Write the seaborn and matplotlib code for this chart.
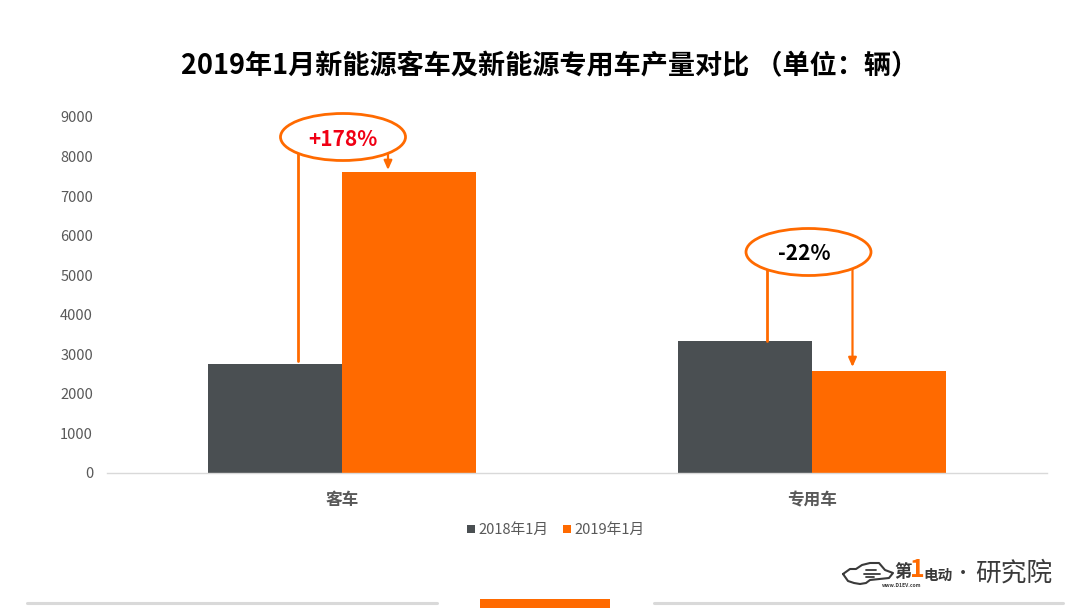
import matplotlib
matplotlib.use("Agg")
import matplotlib.pyplot as plt
from matplotlib.patches import Ellipse, Rectangle
from matplotlib.lines import Line2D
import pandas as pd
import seaborn as sns

categories = ["客车", "专用车"]
series_names = ["2018年1月", "2019年1月"]
values_2018 = [2755, 3337]
values_2019 = [7615, 2580]
y_ticks = [0, 1000, 2000, 3000, 4000, 5000, 6000, 7000, 8000, 9000]
title = "2019年1月新能源客车及新能源专用车产量对比 （单位：辆）"
GREY, ORANGE = "#4A4F52", "#FF6A00"
LOGO = "#3A3A3A"

sns.set_theme(style="white")
plt.rcParams["font.family"] = ["Noto Sans CJK SC", "DejaVu Sans"]

W, H = 1080, 608
fig = plt.figure(figsize=(W / 100, H / 100), dpi=100, facecolor="white")
ax = fig.add_axes([107 / W, 1 - 473 / H, 940 / W, 356 / H])

df = pd.DataFrame({
    "cat": categories * 2,
    "series": [series_names[0]] * 2 + [series_names[1]] * 2,
    "val": values_2018 + values_2019,
})
sns.barplot(data=df, x="cat", y="val", hue="series", palette=[GREY, ORANGE],
            width=0.57, gap=0, saturation=1, ax=ax, legend=False,
            edgecolor="none", linewidth=0)
ax.set_xlim(-0.5, 1.5)
ax.set_ylim(0, 9000)
ax.set_xlabel("")
ax.set_ylabel("")
ax.set_yticks(y_ticks)
ax.tick_params(axis="y", length=0, labelsize=10.5, labelcolor="#595959", pad=10)
ax.tick_params(axis="x", length=0, labelsize=12, labelcolor="#595959", pad=13)
for lab in ax.get_xticklabels():
    lab.set_fontweight("bold")
for s in ("top", "right", "left"):
    ax.spines[s].set_visible(False)
ax.spines["bottom"].set_color("#D9D9D9")
ax.spines["bottom"].set_linewidth(1)
ax.grid(False)

# overlay in pixel space
ov = fig.add_axes([0, 0, 1, 1], facecolor="none", zorder=5)
ov.set_xlim(0, W)
ov.set_ylim(H, 0)
ov.axis("off")

ov.text(549.5, 66, title, ha="center", va="center", fontsize=19.5, fontweight="bold", color="black")

def ell(cx, cy, txt, col, tx):
    ov.add_patch(Ellipse((cx, cy), 125, 47, fc="white", ec=ORANGE, lw=2, zorder=3))
    ov.text(tx, cy + 2, txt, ha="center", va="center", fontsize=15, fontweight="bold", color=col, zorder=4)

def arrow(x, y0, y1):
    ov.annotate("", xy=(x, y1), xytext=(x, y0),
                arrowprops=dict(arrowstyle="-|>,head_width=0.2,head_length=0.45", color=ORANGE, lw=1.6,
                                shrinkA=0, shrinkB=0), zorder=2)

ov.add_line(Line2D([298, 298], [150, 361], color=ORANGE, lw=2, zorder=2))
arrow(388, 150, 170)
ell(343, 137, "+178%", "#F00014", 343)
ov.add_line(Line2D([767, 767], [265, 341], color=ORANGE, lw=2, zorder=2))
arrow(852.5, 268, 367)
ell(808.5, 252, "-22%", "black", 804)

# legend
ov.add_patch(Rectangle((467, 525), 8, 8, fc=GREY, ec="none"))
ov.text(478, 529.5, series_names[0], ha="left", va="center", fontsize=10.6, fontweight="medium", color="#595959")
ov.add_patch(Rectangle((563, 525), 8, 8, fc=ORANGE, ec="none"))
ov.text(574, 529.5, series_names[1], ha="left", va="center", fontsize=10.6, fontweight="medium", color="#595959")

# footer rules
for x0, x1 in ((27, 437), (654, 1063)):
    ov.add_line(Line2D([x0, x1], [603, 603], color="#D9D9D9", lw=2.2))
ov.add_patch(Rectangle((480, 599), 130, 9, fc=ORANGE, ec="none"))

# logo
cx = [843, 850, 856, 862, 870, 879, 885, 893, 889, 870, 866, 860, 854, 848, 843]
cy = [574, 569, 569, 565, 563, 563, 570, 573, 578, 580, 583, 584, 583, 581, 574]
ov.plot(cx, cy, color=LOGO, lw=1.5, solid_joinstyle="round")
for yy, x0, x1 in ((570, 866, 876), (573.5, 864, 880), (577, 866, 874)):
    ov.add_line(Line2D([x0, x1], [yy, yy], color=LOGO, lw=1.3))
ov.text(903.5, 572, "第", ha="center", va="center", fontsize=12.5, fontweight="bold", color=LOGO, style="italic")
ov.text(917.5, 570, "1", ha="center", va="center", fontsize=18, fontweight="bold", color=ORANGE, style="italic")
ov.text(938, 575, "电动", ha="center", va="center", fontsize=10.5, fontweight="bold", color=LOGO, style="italic")
ov.text(902, 585.5, "www.D1EV.com", ha="center", va="center", fontsize=3.6, fontweight="bold", color=LOGO, style="italic")
ov.text(963, 574, "•", ha="center", va="center", fontsize=13, color=LOGO)
ov.text(1013.5, 574, "研究院", ha="center", va="center", fontsize=18.5, fontweight="light", color=LOGO)

fig.savefig("out.png", dpi=100, facecolor="white")
